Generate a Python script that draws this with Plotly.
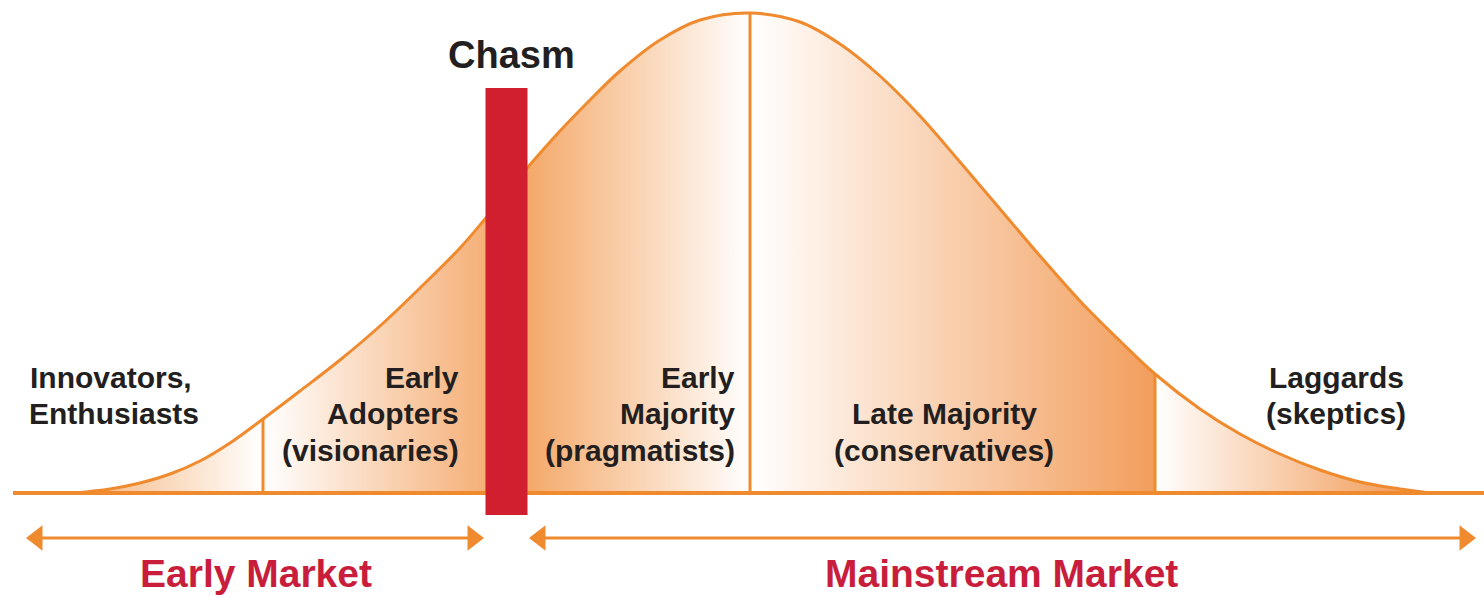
import plotly.graph_objects as go

# ---- data (x position, curve height above baseline) ----
curve_x = [75, 110, 140, 170, 200, 230, 263, 300, 340, 380, 420, 460, 485, 528, 560,
           590, 620, 660, 700, 750, 800, 840, 880, 920, 960, 1000, 1040, 1080, 1120,
           1155, 1200, 1240, 1280, 1320, 1360, 1400, 1430]
curve_h = [0, 4, 10, 19, 32, 50, 74, 102, 133, 167, 205, 245, 274, 326, 362,
           393, 422, 453, 473, 480, 471, 449, 417, 377, 331, 284, 237, 192, 152,
           119, 84, 59, 39, 23, 11, 4, 0]

seg_names = ["Innovators", "Early Adopters", "Early Majority", "Late Majority", "Laggards"]
seg_range = [(75, 263), (263, 528), (485, 750), (750, 1155), (1155, 1430)]
seg_grad = [(75, 263), (263, 485), (528, 750), (750, 1155), (1155, 1400)]
seg_colors = [
    [[0, "#F5B47C"], [1, "#FFFFFF"]],
    [[0, "#FFFFFF"], [1, "#F5B078"]],
    [[0, "#F4A96A"], [1, "#FFFFFF"]],
    [[0, "#FFFFFF"], [1, "#F29E5C"]],
    [[0, "#FFFFFF"], [1, "#F29E5C"]],
]
divider_x = [263, 750, 1155]

baseline_x = [13, 1484]

chasm_center = 506.5
chasm_width = 42
chasm_bottom = -22
chasm_top = 405

arrow_y = -45
early_arrow = [26, 484]
main_arrow = [529, 1476]

label_lines = [
    # (text, x, y, xanchor)
    ("Innovators,", 28, 116, "left"),
    ("Enthusiasts", 27, 80, "left"),
    ("Early", 461, 116, "right"),
    ("Adopters", 461, 80, "right"),
    ("(visionaries)", 461, 43, "right"),
    ("Early", 737, 116, "right"),
    ("Majority", 737, 80, "right"),
    ("(pragmatists)", 737, 43, "right"),
    ("Late Majority", 944, 80, "center"),
    ("(conservatives)", 944, 43, "center"),
    ("Laggards", 1336, 116, "center"),
    ("(skeptics)", 1336, 80, "center"),
]
market_labels = [("Early Market", 256, -80), ("Mainstream Market", 1001, -80)]
chasm_label = ("Chasm", 511, 438)

ORANGE = "#F08A2E"
RED = "#D21F30"
TEXT = "#231F20"
MARKET = "#C81E3C"
FONT = "Liberation Sans, Arial, sans-serif"

fig = go.Figure()

# gradient-filled segments
for name, (a, b), (g0, g1), cs in zip(seg_names, seg_range, seg_grad, seg_colors):
    xs = [x for x in curve_x if a <= x <= b]
    hs = [h for x, h in zip(curve_x, curve_h) if a <= x <= b]
    fig.add_trace(go.Scatter(
        x=xs, y=hs, mode="lines", line=dict(width=0, shape="spline", color=ORANGE),
        fill="tozeroy",
        fillgradient=dict(type="horizontal", colorscale=cs, start=g0, stop=g1),
        hoverinfo="skip", name=name))

# dividers
for bx in divider_x:
    h = curve_h[curve_x.index(bx)]
    fig.add_trace(go.Scatter(x=[bx, bx], y=[0, h], mode="lines",
                             line=dict(color=ORANGE, width=3), hoverinfo="skip"))

# outline
fig.add_trace(go.Scatter(x=curve_x, y=curve_h, mode="lines",
                         line=dict(color=ORANGE, width=3, shape="spline"), hoverinfo="skip"))

# baseline
fig.add_trace(go.Scatter(x=baseline_x, y=[0, 0], mode="lines",
                         line=dict(color=ORANGE, width=4), hoverinfo="skip"))

# chasm bar (drawn on top)
cl, cr = chasm_center - chasm_width / 2, chasm_center + chasm_width / 2
fig.add_trace(go.Scatter(x=[cl, cr, cr, cl, cl],
                         y=[chasm_bottom, chasm_bottom, chasm_top, chasm_top, chasm_bottom],
                         mode="lines", fill="toself", fillcolor=RED,
                         line=dict(width=0, color=RED), hoverinfo="skip"))

# arrows
HEAD = 22
off = HEAD / 2
for a, b in (early_arrow, main_arrow):
    fig.add_trace(go.Scatter(x=[a + off, b - off], y=[arrow_y, arrow_y], mode="lines",
                             line=dict(color=ORANGE, width=3), hoverinfo="skip"))
    fig.add_trace(go.Scatter(x=[a + off, b - off], y=[arrow_y, arrow_y], mode="markers",
                             marker=dict(symbol=["triangle-left", "triangle-right"],
                                         size=HEAD, color=ORANGE, line=dict(width=0)),
                             hoverinfo="skip"))

ann = []
for t, x, y, xa in label_lines:
    ann.append(dict(text="<b>%s</b>" % t, x=x, y=y, xref="x", yref="y", xanchor=xa,
                    yanchor="middle", showarrow=False,
                    font=dict(family=FONT, size=30, color=TEXT)))
for t, x, y in market_labels:
    ann.append(dict(text="<b>%s</b>" % t, x=x, y=y, xref="x", yref="y", xanchor="center",
                    yanchor="middle", showarrow=False,
                    font=dict(family=FONT, size=39, color=MARKET)))
ann.append(dict(text="<b>%s</b>" % chasm_label[0], x=chasm_label[1], y=chasm_label[2],
                xref="x", yref="y", xanchor="center", yanchor="middle", showarrow=False,
                font=dict(family=FONT, size=38, color=TEXT)))

fig.update_layout(
    width=1484, height=597, margin=dict(l=0, r=0, t=0, b=0),
    paper_bgcolor="white", plot_bgcolor="white", showlegend=False,
    xaxis=dict(range=[0, 1484], visible=False, fixedrange=True),
    yaxis=dict(range=[-104, 493], visible=False, fixedrange=True),
    annotations=ann,
)

fig.write_html("out.html", config={"displayModeBar": False},
               post_script="document.body.style.margin='0';document.body.style.overflow='hidden';")
